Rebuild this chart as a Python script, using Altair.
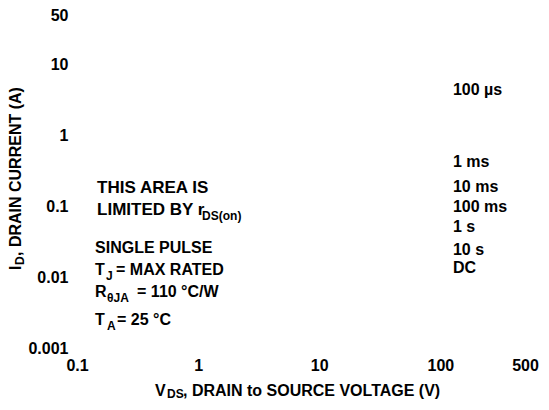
import altair as alt
import pandas as pd

# ---- data ----
x_ticks = [0.1, 1, 10, 100, 500]
y_ticks = [0.001, 0.01, 0.1, 1, 10, 50]

pulse_labels = ["100 µs", "1 ms", "10 ms", "100 ms", "1 s", "10 s", "DC"]
pulse_v = [127, 127, 127, 127, 127, 127, 127]
pulse_i = [4.37, 0.42, 0.187, 0.0977, 0.051, 0.0242, 0.01346]

note_main = ["THIS AREA IS", "LIMITED BY r", "SINGLE PULSE", "T", "R", "T"]
note_sub = ["", "DS(on)", "", "J", "θJA", "A"]
note_tail = ["", "", "", "= MAX RATED", "= 110 °C/W", "= 25 °C"]
note_v = [0.1465, 0.1465, 0.141, 0.141, 0.141, 0.141]
note_i = [0.181, 0.0887, 0.0258, 0.0126, 0.00617, 0.00248]

x_title = ["V", "DS", ", DRAIN to SOURCE VOLTAGE (V)"]
y_title = ["I", "D", ", DRAIN CURRENT (A)"]

# ---- layout / style ----
FONT = "Liberation Sans"
SIZE = 16
SUB = 12
MAIN_SIZE = [17, 17, 16, 16, 16, 16]
SUB_DX = [0, 105, 0, 11, 12, 12]
TAIL_DX = [0, 0, 0, 21, 42, 22]

xscale = alt.Scale(type="log", domain=[0.1, 500], nice=False)
yscale = alt.Scale(type="log", domain=[0.001, 50], nice=False)
xaxis = alt.Axis(values=x_ticks, format="~g", title=None, domain=False, ticks=False,
                 tickSize=0, grid=False, labelFont=FONT, labelFontWeight="bold",
                 labelFontSize=SIZE, labelColor="black", labelPadding=9, labelFlush=False,
                 labelOverlap=False)
yaxis = alt.Axis(values=y_ticks, format="~g", title=None, domain=False, ticks=False,
                 tickSize=0, grid=False, labelFont=FONT, labelFontWeight="bold",
                 labelFontSize=SIZE, labelColor="black", labelPadding=9, labelFlush=False,
                 labelOverlap=False)


def data_text(df, size=SIZE, dx=0, dy=0):
    return alt.Chart(df).mark_text(
        align="left", baseline="middle", font=FONT, fontWeight="bold",
        fontSize=size, dx=dx, dy=dy, color="black"
    ).encode(
        x=alt.X("v:Q", scale=xscale, axis=xaxis),
        y=alt.Y("i:Q", scale=yscale, axis=yaxis),
        text="t:N",
    )


def pixel_text(t, px, py, size=SIZE, dx=0, dy=0, angle=0):
    return alt.Chart(pd.DataFrame({"t": [t]})).mark_text(
        align="left", baseline="middle", font=FONT, fontWeight="bold",
        fontSize=size, dx=dx, dy=dy, angle=angle, color="black"
    ).encode(x=alt.value(px), y=alt.value(py), text="t:N")


layers = []
layers.append(data_text(pd.DataFrame({"t": pulse_labels, "v": pulse_v, "i": pulse_i})))

for k in range(len(note_main)):
    layers.append(data_text(pd.DataFrame({"t": [note_main[k]], "v": [note_v[k]], "i": [note_i[k]]}),
                            size=MAIN_SIZE[k]))
    if note_sub[k]:
        layers.append(data_text(pd.DataFrame({"t": [note_sub[k]], "v": [note_v[k]], "i": [note_i[k]]}),
                                size=SUB, dx=SUB_DX[k], dy=6))
    if note_tail[k]:
        layers.append(data_text(pd.DataFrame({"t": [note_tail[k]], "v": [note_v[k]], "i": [note_i[k]]}),
                                dx=TAIL_DX[k]))

# axis titles with subscripts
layers.append(pixel_text(x_title[0], 78, 376))
layers.append(pixel_text(x_title[1], 78, 376, size=SUB, dx=12, dy=3))
layers.append(pixel_text(x_title[2], 78, 376, dx=28))

layers.append(pixel_text(y_title[0], -61.5, 255, angle=270))
layers.append(pixel_text(y_title[1], -61.5, 255, size=SUB, dx=5, dy=4, angle=270))
layers.append(pixel_text(y_title[2], -61.5, 255, dx=14, angle=270))

chart = alt.layer(*layers).properties(
    width=448, height=333,
    autosize=alt.AutoSizeParams(type="none"),
    padding={"left": 69, "top": 7, "right": 16, "bottom": 54},
    background="white",
).configure_view(stroke=None)

chart.save("out.html", embed_options={"renderer": "svg", "actions": False})
